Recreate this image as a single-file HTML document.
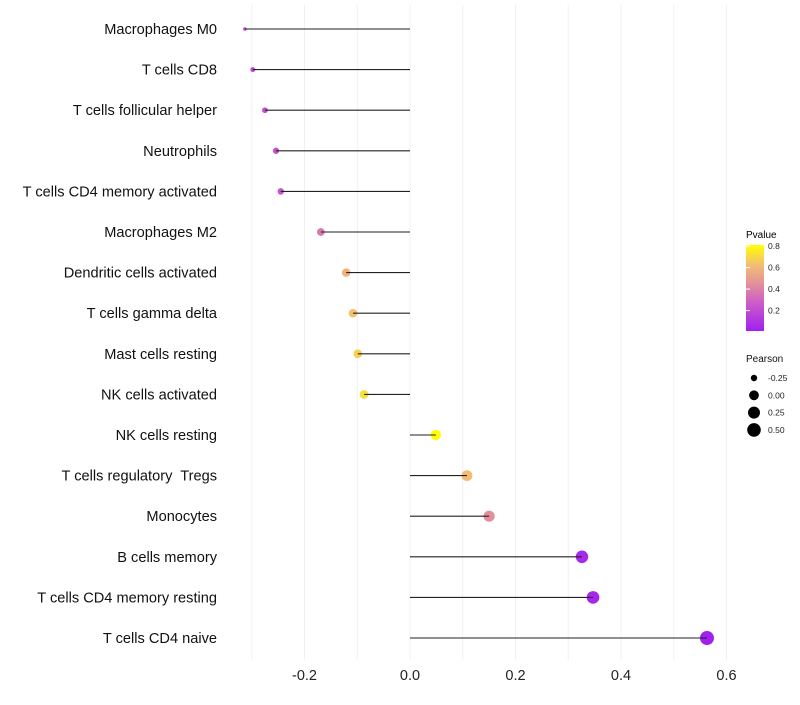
<!DOCTYPE html>
<html><head><meta charset="utf-8"><style>
body{margin:0;background:#fff;font-family:"Liberation Sans",sans-serif;}
svg text{font-family:"Liberation Sans",sans-serif;white-space:pre;}
</style></head><body>
<svg id="chart" width="800" height="700" xmlns="http://www.w3.org/2000/svg">
<g id="grid"></g>
<g id="dots"></g>
<g id="marks"></g>
<g id="ylabels"></g>
<g id="xlabels"></g>
<g id="legend">
 <defs><linearGradient id="pg" x1="0" y1="1" x2="0" y2="0">
  <stop offset="0" stop-color="#A020F0"/><stop offset="0.33" stop-color="#CD5CC8"/>
  <stop offset="0.55" stop-color="#E3909A"/><stop offset="0.78" stop-color="#F4C070"/>
  <stop offset="1" stop-color="#FFFF00"/></linearGradient></defs>
 <text x="746" y="238" font-size="10">Pvalue</text>
 <rect x="746" y="245" width="18" height="86" fill="url(#pg)"/>
</g>
</svg>
<script>
const categories=["Macrophages M0","T cells CD8","T cells follicular helper","Neutrophils","T cells CD4 memory activated","Macrophages M2","Dendritic cells activated","T cells gamma delta","Mast cells resting","NK cells activated","NK cells resting","T cells regulatory  Tregs","Monocytes","B cells memory","T cells CD4 memory resting","T cells CD4 naive"];
const pearson=[-0.313,-0.298,-0.275,-0.254,-0.245,-0.169,-0.121,-0.108,-0.099,-0.087,0.049,0.108,0.150,0.326,0.347,0.563];
const pvalues=[0.2,0.2,0.22,0.22,0.24,0.38,0.58,0.64,0.68,0.72,0.82,0.62,0.45,0.05,0.04,0.01];
const xTicks=[-0.2,0,0.2,0.4,0.6];
const xTickLabels=["-0.2","0.0","0.2","0.4","0.6"];
const pTicks=[0.2,0.4,0.6,0.8];
const sizeTicks=[-0.25,0,0.25,0.5];
const sizeTickLabels=["-0.25","0.00","0.25","0.50"];

const NS="http://www.w3.org/2000/svg";
const x=v=>410+v*527.5;
const y=i=>29+i*40.6;
const pY=p=>331-(p-0.01)*(86/0.8);
const rad=v=>1.8+5.2*Math.sqrt(Math.max(0,(v+0.313)/0.876));
const stops=[[0,[160,32,240]],[0.33,[205,92,200]],[0.55,[227,144,154]],[0.78,[244,192,112]],[1,[255,255,0]]];
function col(p){let t=Math.min(1,Math.max(0,(p-0.01)/0.8));for(let k=1;k<stops.length;k++){if(t<=stops[k][0]){const[a,ca]=stops[k-1],[b,cb]=stops[k];const f=(t-a)/(b-a);return `rgb(${ca.map((c,j)=>Math.round(c+(cb[j]-c)*f)).join(",")})`;}}return "rgb(255,255,0)";}
function mk(tag,attrs,parent){const e=document.createElementNS(NS,tag);for(const k in attrs)e.setAttribute(k,attrs[k]);parent.appendChild(e);return e;}
const grid=document.getElementById('grid'),dots=document.getElementById('dots'),marks=document.getElementById('marks'),yl=document.getElementById('ylabels'),xl=document.getElementById('xlabels'),lg=document.getElementById('legend');
for(let v=-0.3;v<=0.61;v+=0.1){const g=mk('line',{x1:x(v),x2:x(v),y1:5,y2:660,stroke:'#f0f0f0','stroke-width':1},grid);

}
xTicks.forEach((v,i)=>{const t=mk('text',{x:x(v),y:680,'font-size':14.5,'text-anchor':'middle',fill:'#222'},xl);t.textContent=xTickLabels[i];

});
categories.forEach((c,i)=>{
 const d=mk('circle',{cx:x(pearson[i]),cy:y(i),r:rad(pearson[i]),fill:col(pvalues[i])},dots);
 
 
 const l=mk('line',{x1:x(0),x2:x(pearson[i]),y1:y(i),y2:y(i),stroke:'#222','stroke-width':1.1},marks);
 
 
 const t=mk('text',{x:217,y:y(i)+5,'font-size':14.6,'text-anchor':'end',fill:'#111'},yl);t.textContent=c;
 
 
});
pTicks.forEach(p=>{const tk=mk('line',{x1:746,x2:750,y1:pY(p),y2:pY(p),stroke:'#fff','stroke-width':1},lg);


const t=mk('text',{x:768,y:pY(p)+3,'font-size':8.5,fill:'#222'},lg);t.textContent=p.toFixed(1);

});
const st=mk('text',{x:746,y:362,'font-size':10,fill:'#111'},lg);st.textContent="Pearson";


sizeTicks.forEach((v,i)=>{const cy=378+i*17.3;const d=mk('circle',{cx:754,cy:cy,r:rad(v),fill:'#000'},lg);


const t=mk('text',{x:768,y:cy+3,'font-size':8.5,fill:'#222'},lg);t.textContent=sizeTickLabels[i];

});
</script>
</body></html>
